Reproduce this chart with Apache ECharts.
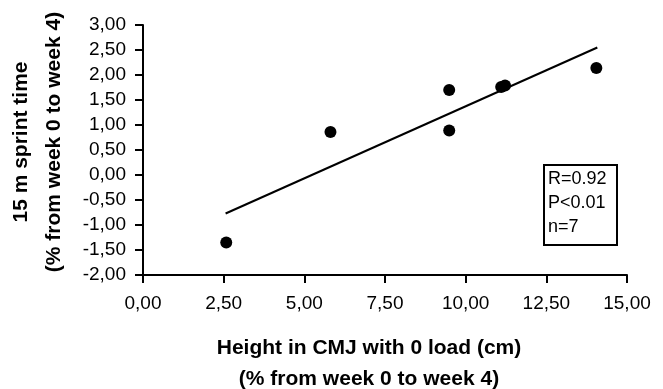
<!DOCTYPE html>
<html>
<head>
<meta charset="utf-8">
<script src="https://cdn.jsdelivr.net/npm/echarts@6/dist/echarts.min.js"></script>
<style>
  html, body { margin: 0; padding: 0; background: #fff; }
  #chart { width: 663px; height: 389px; }
</style>
</head>
<body>
<div id="chart"></div>
<script>
// CMJ height change vs 15 m sprint time change
let cmjX = [2.58, 5.81, 9.49, 9.49, 11.10, 11.22, 14.05];
let sprintY = [-1.35, 0.86, 1.70, 0.89, 1.76, 1.79, 2.14];
// regression line end points
let fitX = [2.56, 14.08];
let fitY = [-0.77, 2.55];
let statLines = ['R=0.92', 'P<0.01', 'n=7'];

(function() {
    let chartDom = document.getElementById('chart');
    let myChart = echarts.init(chartDom);
    let fmt = function(v) {
        return v.toFixed(2).replace('.', ',');
    };
    let font = 'Liberation Sans, Arial, sans-serif';

    let option = {
        animation: false,
        grid: {
            left: 143,
            right: 36,
            top: 25,
            bottom: 114
        },
        xAxis: {
            type: 'value',
            min: 0,
            max: 15,
            interval: 2.5,
            splitLine: { show: false },
            axisLine: { onZero: false, lineStyle: { color: '#000', width: 2 } },
            axisTick: { length: 8, lineStyle: { color: '#000', width: 2 } },
            axisLabel: {
                margin: 19,
                color: '#000',
                fontSize: 19,
                fontFamily: font,
                formatter: fmt
            }
        },
        yAxis: {
            type: 'value',
            min: -2,
            max: 3,
            interval: 0.5,
            splitLine: { show: false },
            axisLine: { onZero: false, lineStyle: { color: '#000', width: 2 } },
            axisTick: { length: 8, lineStyle: { color: '#000', width: 2 } },
            axisLabel: {
                margin: 17,
                color: '#000',
                fontSize: 19,
                fontFamily: font,
                formatter: fmt
            }
        },
        graphic: [
            // x axis title
            {
                type: 'text',
                x: 369, y: 333,
                style: {
                    text: 'Height in CMJ with 0 load (cm)\n(% from week 0 to week 4)',
                    fill: '#000',
                    font: 'bold 21px ' + font,
                    align: 'center',
                    lineHeight: 31
                }
            },
            // y axis title
            {
                type: 'text',
                x: 5, y: 142,
                rotation: Math.PI / 2,
                style: {
                    text: '15 m sprint time\n(% from week 0 to week 4)',
                    fill: '#000',
                    font: 'bold 21px ' + font,
                    align: 'center',
                    verticalAlign: 'top',
                    lineHeight: 33
                }
            },
            // stats box
            {
                type: 'rect',
                shape: { x: 544, y: 165, width: 73, height: 80 },
                style: { fill: '#fff', stroke: '#000', lineWidth: 2 }
            },
            {
                type: 'text',
                x: 548, y: 167,
                style: {
                    text: statLines.join('\n'),
                    fill: '#000',
                    font: '18px ' + font,
                    lineHeight: 24
                }
            }
        ],
        series: [{
                type: 'scatter',
                symbolSize: 12,
                itemStyle: { color: '#000', opacity: 1 },
                data: cmjX.map(function(x, i) { return [x, sprintY[i]]; })
            },
            {
                type: 'line',
                symbol: 'none',
                lineStyle: { color: '#000', width: 2 },
                data: fitX.map(function(x, i) { return [x, fitY[i]]; })
            }
        ]
    };
    myChart.setOption(option);
    window.addEventListener('resize', function() {
        myChart.resize();
    });
})();
</script>
</body>
</html>
